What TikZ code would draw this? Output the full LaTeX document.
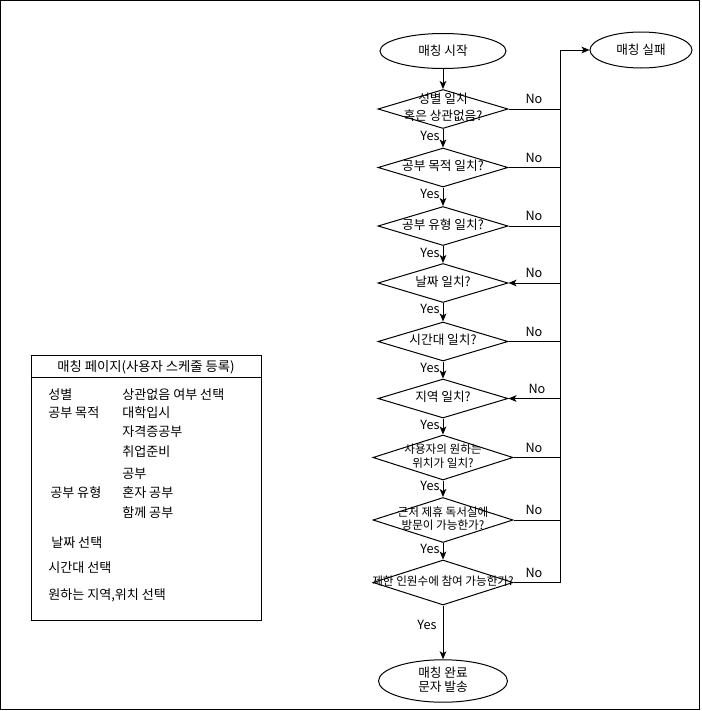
\documentclass[tikz,border=0pt]{standalone}
\usepackage{fontspec}
\setmainfont{Noto Sans CJK KR}
\usetikzlibrary{shapes.geometric,arrows.meta}
\newcommand\dtext[1]{\makebox[0pt]{\begin{tabular}{@{}c@{}}#1\end{tabular}}}
\begin{document}
\begin{tikzpicture}[x=0.75pt,y=-0.75pt,
  every node/.style={font=\fontsize{9.5}{12}\selectfont},
  dia/.style={draw, diamond, inner sep=0pt, minimum width=97.5pt, minimum height=29.25pt, line width=0.75pt},
  widedia/.style={dia, minimum width=105pt, minimum height=33.75pt, font=\fontsize{8.7}{12}\selectfont},
  term/.style={draw, ellipse, inner sep=0pt, line width=0.75pt},
  flow/.style={line width=0.75pt, -{Stealth[length=6pt,width=5pt,inset=1.5pt]}},
  plain/.style={line width=0.75pt},
  lab/.style={inner sep=0pt},
  item/.style={anchor=west, inner sep=0pt, font=\fontsize{9.8}{12}\selectfont}]
\useasboundingbox (0,0) rectangle (701,711);
\draw[plain] (0.8,0.8) rectangle (699.5,709.8);

% terminals
\node[term, minimum width=94.5pt, minimum height=26.25pt] (start) at (443,51) {매칭 시작};
\node[term, minimum width=76.5pt, minimum height=27pt] (fail) at (641,50) {매칭 실패};
\node[term, minimum width=96.75pt, minimum height=28.5pt] (done) at (443,681) {\dtext{매칭 완료\\[-1.5pt]문자 발송}};

% decisions
\node[dia] (d1) at (443,109) {\dtext{성별 일치\\[0.75pt]혹은 상관없음?}};
\node[dia] (d2) at (443,167.5) {\dtext{공부 목적 일치?}};
\node[dia] (d3) at (443,226) {\dtext{공부 유형 일치?}};
\node[dia] (d4) at (443,283) {\dtext{날짜 일치?}};
\node[dia] (d5) at (443,341.5) {\dtext{시간대 일치?}};
\node[dia] (d6) at (443,398.5) {\dtext{지역 일치?}};
\node[widedia] (d7) at (443,457.5) {\dtext{사용자의 원하는\\[-1.5pt]위치가 일치?}};
\node[widedia] (d8) at (443,520) {\dtext{근처 제휴 독서실에\\[-2.25pt]방문이 가능한가?}};
\node[widedia] (d9) at (443,582.5) {\dtext{제한 인원수에 참여 가능한가?}};

% yes path
\draw[flow] (start) -- (d1);
\draw[flow] (d1) -- (d2);
\draw[flow] (d2) -- (d3);
\draw[flow] (d3) -- (d4);
\draw[flow] (d4) -- (d5);
\draw[flow] (d5) -- (d6);
\draw[flow] (d6) -- (d7);
\draw[flow] (d7) -- (d8);
\draw[flow] (d8) -- (d9);
\draw[flow] (d9) -- (done);

\node[lab] (y1) at (430,136) {Yes};
\node[lab] (y2) at (430,194) {Yes};
\node[lab] (y3) at (430,252.5) {Yes};
\node[lab] (y4) at (430,309) {Yes};
\node[lab] (y5) at (430,368) {Yes};
\node[lab] (y6) at (430,425) {Yes};
\node[lab] (y7) at (430,486) {Yes};
\node[lab] (y8) at (430,549) {Yes};
\node[lab] (y9) at (427,625) {Yes};

% no path
\coordinate (railtop) at (560,50);
\coordinate (railbot) at (560,582.5);
\draw[flow] (d9.east) -- (railbot) -- (railtop) -- (fail.west);
\draw[plain] (d1.east) -- (d1.east -| railtop);
\draw[plain] (d2.east) -- (d2.east -| railtop);
\draw[plain] (d3.east) -- (d3.east -| railtop);
\draw[flow] (d4.east -| railtop) -- (d4.east);
\draw[plain] (d5.east) -- (d5.east -| railtop);
\draw[flow] (d6.east -| railtop) -- (d6.east);
\draw[plain] (d7.east) -- (d7.east -| railtop);
\draw[plain] (d8.east) -- (d8.east -| railtop);

\node[lab] (n1) at (534,99) {No};
\node[lab] (n2) at (534,157.5) {No};
\node[lab] (n3) at (534,216) {No};
\node[lab] (n4) at (534,273) {No};
\node[lab] (n5) at (534,331.5) {No};
\node[lab] (n6) at (537,388.5) {No};
\node[lab] (n7) at (534,447.5) {No};
\node[lab] (n8) at (534,510) {No};
\node[lab] (n9) at (534,572.5) {No};

% page box
\node[draw, line width=0.75pt, minimum width=172.5pt, minimum height=198.75pt, inner sep=0pt] (page) at (146,487.5) {};
\draw[plain] ([yshift=-17.25pt]page.north west) -- ([yshift=-17.25pt]page.north east);
\node[inner sep=0pt, font=\fontsize{10}{12}\selectfont] (ptitle) at (146,367) {매칭 페이지(사용자 스케줄 등록)};

\node[item] (i1) at (48,395) {성별};
\node[item] (i2) at (122,395) {상관없음 여부 선택};
\node[item] (i3) at (48,413) {공부 목적};
\node[item] (i4) at (122,413) {대학입시};
\node[item] (i5) at (122,432) {자격증공부};
\node[item] (i6) at (122,452) {취업준비};
\node[item] (i7) at (122,474) {공부};
\node[item] (i8) at (50,493) {공부 유형};
\node[item] (i9) at (122,493) {혼자 공부};
\node[item] (i10) at (122,513) {함께 공부};
\node[item] (i11) at (51,543) {날짜 선택};
\node[item] (i12) at (48,568) {시간대 선택};
\node[item] (i13) at (48,595) {원하는 지역,위치 선택};
\end{tikzpicture}
\end{document}
